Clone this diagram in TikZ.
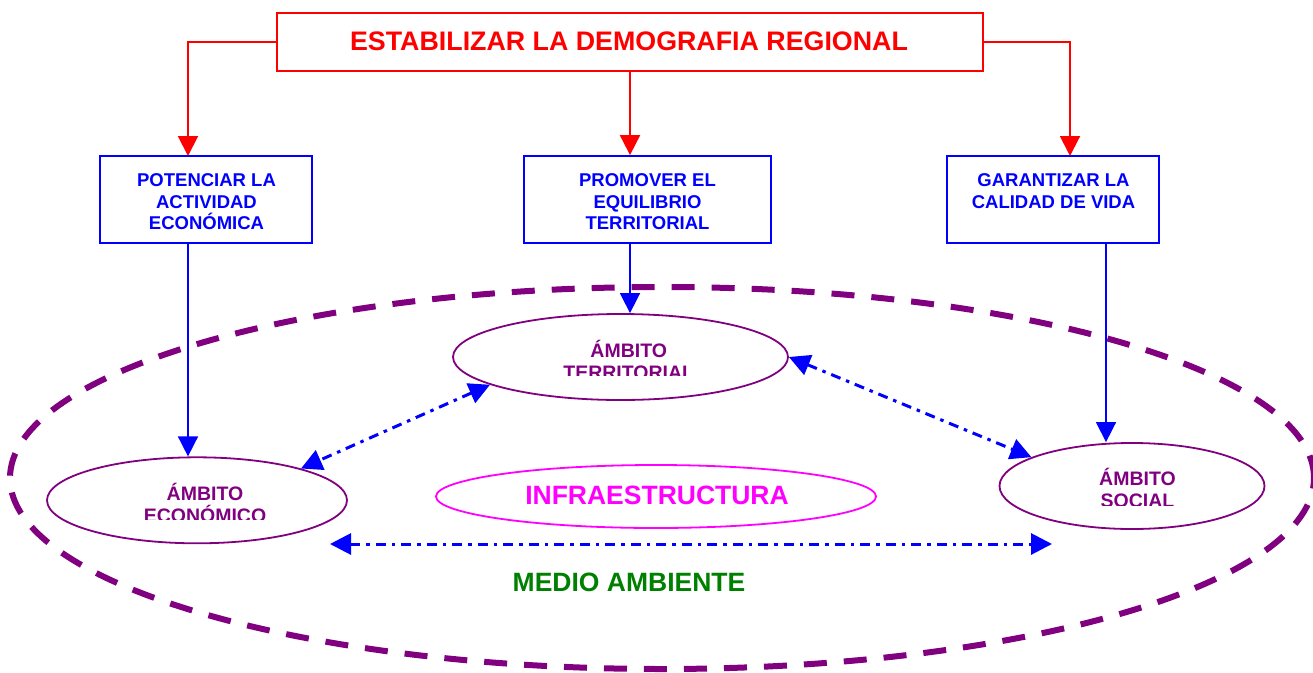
\documentclass[tikz,border=0pt]{standalone}
\usepackage{fontspec}
\setmainfont{Liberation Sans}
\usetikzlibrary{arrows.meta,shapes.geometric}
\definecolor{dpurple}{HTML}{800080}
\definecolor{dgreen}{HTML}{008000}
\definecolor{mag}{HTML}{FF00FF}
\begin{document}
\begin{tikzpicture}[x=1pt,y=-1pt,
  redbox/.style={draw=red,line width=2pt,rectangle,inner sep=0pt},
  bluebox/.style={draw=blue,line width=1.8pt,rectangle,inner sep=0pt},
  boxtext/.style={text=blue,font=\fontsize{18.5}{21.5}\selectfont\bfseries,align=center,inner sep=0pt,anchor=north},
  ell/.style={draw=dpurple,line width=1.8pt,ellipse,inner sep=0pt},
  etext/.style={text=dpurple,font=\fontsize{19.5}{22}\selectfont\bfseries,inner sep=0pt,anchor=base},
  redarr/.style={red,line width=2pt,-{Triangle[length=20pt,width=20pt]}},
  bluearr/.style={blue,line width=1.6pt,-{Triangle[length=20pt,width=20pt]}},
  dasharr/.style={blue,line width=3pt,dash pattern=on 10pt off 6pt on 3.5pt off 6pt,
     {Triangle[length=21pt,width=21pt]}-{Triangle[length=21pt,width=21pt]}},
  bigdash/.style={draw=dpurple,line width=6pt,dash pattern=on 23pt off 17pt,ellipse,inner sep=0pt}
]
\useasboundingbox (0,0) rectangle (1313,672);
\fill[white] (0,0) rectangle (1313,672);

% big environment ellipse
\node[bigdash,minimum width=1304,minimum height=382] (env) at (662,478) {};
\node[text=dgreen,font=\fontsize{26.5}{30}\selectfont\bfseries,inner sep=0pt,anchor=base] (envlbl) at (629,591) {MEDIO AMBIENTE};

% top box
\node[redbox,minimum width=706,minimum height=58] (top) at (630,42) {};
\node[text=red,font=\fontsize{26.8}{30}\selectfont\bfseries,inner sep=0pt,anchor=base] (toptxt) at (629,50) {ESTABILIZAR LA DEMOGRAFIA REGIONAL};

% three boxes
\node[bluebox,minimum width=212,minimum height=87] (pot) at (206,199.5) {};
\node[bluebox,minimum width=247,minimum height=87] (prom) at (647.5,199.5) {};
\node[bluebox,minimum width=212,minimum height=87] (gar) at (1053,199.5) {};
\node[boxtext] (pottxt) at (206.5,173.5) {POTENCIAR LA\\ACTIVIDAD\\ECONÓMICA};
\node[boxtext] (promtxt) at (647.5,173.5) {PROMOVER EL\\EQUILIBRIO\\TERRITORIAL};
\node[boxtext] (gartxt) at (1053.5,173.5) {GARANTIZAR LA\\CALIDAD DE VIDA};

% ellipses
\node[ell,minimum width=335,minimum height=86] (terr) at (620.5,357) {};
\node[ell,minimum width=300,minimum height=86] (econ) at (197,500.3) {};
\node[ell,minimum width=265,minimum height=86] (soc) at (1132,486) {};
\node[draw=mag,line width=1.8pt,ellipse,inner sep=0pt,minimum width=440,minimum height=63] (infra) at (656,496.5) {};
\node[text=mag,font=\fontsize{26.5}{30}\selectfont\bfseries,inner sep=0pt,anchor=base] (infratxt) at (657,504.5) {INFRAESTRUCTURA};

% clipped ellipse labels
\begin{scope}
\clip (460,320) rectangle (780,375);
\node[etext] (terrA) at (628.7,357) {ÁMBITO};
\node[etext] (terrB) at (628.7,379) {TERRITORIAL};
\end{scope}
\begin{scope}
\clip (60,465) rectangle (340,519);
\node[etext] (econA) at (205,500) {ÁMBITO};
\node[etext] (econB) at (205,522) {ECONÓMICO};
\end{scope}
\begin{scope}
\clip (1010,450) rectangle (1255,505);
\node[etext] (socA) at (1137.5,485) {ÁMBITO};
\node[etext] (socB) at (1137.5,507) {SOCIAL};
\end{scope}

% entry points
\coordinate (potin) at (188,156);
\coordinate (garin) at (1070,156);
\coordinate (garout) at (1106,243);
\coordinate (hl) at (330,544);
\coordinate (hr) at (1052,544);

% red connectors
\draw[redarr] (top.west) -| (potin);
\draw[redarr] (top.south) -- (top.south |- prom.north);
\draw[redarr] (top.east) -| (garin);

% blue connectors
\draw[bluearr] (pot.south -| potin) -- (econ.north -| potin);
\draw[bluearr] (prom.south -| top.south) -- (terr.north -| top.south);
\draw[bluearr] (garout) -- (soc.north -| garout);

% dash-dot double arrows
\draw[dasharr] (terr.192) -- (econ.17);
\draw[dasharr] (terr.east) -- (soc.164);
\draw[dasharr] (hl) -- (hr);
\end{tikzpicture}
\end{document}
